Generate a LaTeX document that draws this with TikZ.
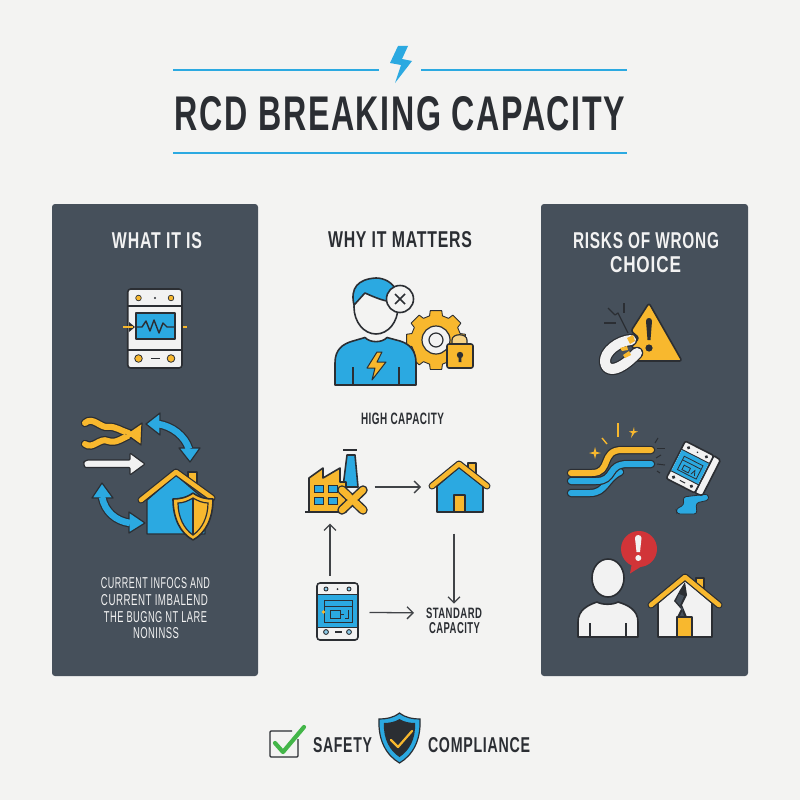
\documentclass[tikz,border=0pt]{standalone}
\usepackage{graphicx}
\usepackage{fontspec}
\setmainfont[LetterSpace=5]{Liberation Sans}
\setsansfont{Liberation Sans}
\usetikzlibrary{arrows.meta}
\definecolor{paper}{HTML}{F3F3F2}
\definecolor{panel}{HTML}{46505B}
\definecolor{ink}{HTML}{2B2E33}
\definecolor{skyb}{HTML}{2BA9E1}
\definecolor{sun}{HTML}{F8B82E}
\definecolor{snow}{HTML}{F2F2F2}
\definecolor{alert}{HTML}{D13438}
\definecolor{okgreen}{HTML}{43B649}
\newcommand{\fit}[3]{\resizebox{#1pt}{#2pt}{\bfseries #3}}
\newcommand{\fitn}[3]{\resizebox{#1pt}{#2pt}{#3}}
\tikzset{
  txt/.style={inner sep=0pt,outer sep=0pt,anchor=center},
  dk/.style={txt,text=ink},
  wt/.style={txt,text=snow},
  ol/.style={draw=ink,line width=1.6pt,line join=round},
  olw/.style={draw=ink,line width=1.2pt,line join=round},
  rule/.style={draw=skyb,line width=2pt},
  flow/.style={draw=ink!90,line width=1.3pt,-{Straight Barb[length=6pt,width=12pt,line width=1.3pt]}},
  anchorbox/.style={inner sep=0pt,outer sep=0pt,minimum width=#1pt,minimum height=#1pt},
}
\newcommand{\dualline}[4]{% outer width, inner width, colour, path
  \draw[ink,line width=#1pt,line cap=round,line join=round] #4;
  \draw[#3,line width=#2pt,line cap=round,line join=round] #4;}
\begin{document}
\begin{tikzpicture}[x=1pt,y=-1pt]
\useasboundingbox (0,0) rectangle (800,800);
\fill[paper] (0,0) rectangle (800,800);

% ---- header
\coordinate (hl1) at (173,70); \coordinate (hl2) at (379,70);
\coordinate (hr1) at (421,70); \coordinate (hr2) at (627,70);
\coordinate (hb1) at (173,153); \coordinate (hb2) at (627,153);
\draw[rule] (hl1) -- (hl2);
\draw[rule] (hr1) -- (hr2);
\draw[rule] (hb1) -- (hb2);
\fill[skyb] (398,46) -- (408,46) -- (402,59) -- (412,61) -- (395,83) -- (401,65) -- (390,63) -- cycle;
\node[dk] (title) at (400,114) {\fit{450}{34}{RCD BREAKING CAPACITY}};

% ---- panels
\fill[panel,rounded corners=3pt] (52,204) rectangle (258,676);
\fill[panel,rounded corners=3pt] (541,204) rectangle (748,676);

\node[wt] (t1) at (157,241) {\fit{90}{16}{WHAT IT IS}};
\node[dk] (t2) at (400,240) {\fit{144}{16}{WHY IT MATTERS}};
\node[wt] (t3a) at (646,241) {\fit{146}{16}{RISKS OF WRONG}};
\node[wt] (t3b) at (645.5,265) {\fit{71}{16}{CHOICE}};

% ---- device icon (left, top)
\draw[sun,line width=1.8pt] (123,327) -- (134,327);
\draw[sun,line width=1.8pt] (177,327) -- (187,327);
\draw[ol,fill=snow,rounded corners=3pt] (127.7,289) rectangle (182,368);
\draw[ink,line width=1.2pt] (127.7,306) -- (182,306);
\draw[ink,line width=1.2pt] (127.7,350) -- (182,350);
\draw[ol,fill=skyb] (136,313) rectangle (174.7,339);
\draw[ink,line width=1.4pt,line join=round] (137,327) -- (142,327) -- (146,321) -- (150,331) -- (154,320) -- (159,333) -- (163,323) -- (167,327) -- (174,327);
\fill[ink] (129,322) -- (135,327) -- (129,332) -- cycle;
\draw[sun,line width=1.5pt] (123,327) -- (133,327);
\draw[ink,line width=.7pt,fill=sun] (138.5,298) circle (2.8);
\draw[ink,line width=.7pt,fill=sun] (171,298) circle (2.8);
\fill[ink] (155,298) circle (1.2);
\draw[ink,line width=.8pt,fill=sun] (138.5,358.5) circle (3.8);
\draw[ink,line width=.8pt,fill=sun] (171,358.5) circle (3.8);
\draw[ink,line width=1.5pt] (151,358.5) -- (160,358.5);

% ---- flow icon (left, middle)
\foreach \w/\c in {8.5/ink,6/sun}{
  \draw[\c,line width=\w pt,line cap=round] (85,423) .. controls (93,416) and (100,428) .. (108,427) .. controls (116,426) and (120,431) .. (132,434);
  \draw[\c,line width=\w pt,line cap=round] (85,444) .. controls (93,450) and (100,437) .. (108,441) .. controls (116,444) and (122,438) .. (132,434);
}
\draw[olw,fill=sun] (142,423) -- (141,445) -- (126,434) -- cycle;
\draw[sun,line width=4pt] (124,431) -- (132,434) -- (124,438);
\draw[olw,fill=snow,rounded corners=1pt] (85,460) -- (130,460) -- (130,453) -- (145,464) -- (130,475) -- (130,467.5) -- (85,467.5) [rounded corners=3pt] -- (83,464) -- cycle;
% blue double arrows
\draw[ink,line width=9pt] (158,424) .. controls (172,426) and (185,436) .. (189,449);
\draw[ink,line width=9pt] (102,497) .. controls (105,512) and (116,521) .. (130,523);
\draw[olw,fill=skyb] (146,424) -- (160,413) -- (160,435) -- cycle;
\draw[olw,fill=skyb] (190,462) -- (179,448) -- (200,448) -- cycle;
\draw[olw,fill=skyb] (102,483) -- (92,498) -- (113,498) -- cycle;
\draw[olw,fill=skyb] (145,523) -- (129,512) -- (129,533) -- cycle;
\draw[skyb,line width=6.6pt] (158,424) .. controls (172,426) and (185,436) .. (189,449);
\draw[skyb,line width=6.6pt] (102,497) .. controls (105,512) and (116,521) .. (130,523);
% house with shield
\draw[olw,fill=sun] (188,472) rectangle (197,484);
\draw[olw,fill=skyb] (147,500) -- (176,475) -- (205,500) -- (205,534) -- (147,534) -- cycle;
\dualline{7}{4.6}{sun}{(141,500) -- (176,472) -- (212,498)}
\draw[ol,fill=sun] (193,493) .. controls (200,498) and (207,499) .. (213,499) .. controls (213,518) and (206,533) .. (193,540) .. controls (180,533) and (173,518) .. (173,499) .. controls (179,499) and (186,498) .. (193,493) -- cycle;
\fill[skyb] (193,498) .. controls (188,501) and (183,503) .. (178,503) .. controls (178,517) and (184,529) .. (193,535) -- cycle;
\fill[sun] (193,498) -- (193,535) .. controls (202,529) and (208,517) .. (208,503) .. controls (203,503) and (198,501) .. (193,498) -- cycle;
\draw[ink,line width=1.2pt] (193,498) .. controls (188,501) and (183,503) .. (178,503) .. controls (178,517) and (184,529) .. (193,535) .. controls (202,529) and (208,517) .. (208,503) .. controls (203,503) and (198,501) .. (193,498) -- cycle;
\draw[ink,line width=1.2pt] (193,498) -- (193,535);

\node[wt] (l1) at (155.5,583.5) {\fitn{109}{11}{CURRENT INFOCS AND}};
\node[wt] (l2) at (154.5,600) {\fitn{107}{11}{CURRENT IMBALEND}};
\node[wt] (l3) at (155.5,617) {\fitn{103}{11}{THE BUGNG NT LARE}};
\node[wt] (l4) at (156,633.5) {\fitn{46}{11}{NONINSS}};

% ---- person with gear (centre)
\begin{scope}[shift={(436,340)}]
\draw[ink,line width=.9pt,fill=sun,line join=round] (-11:30)
  \foreach \a in {0,45,...,315}{ -- (\a+11:30) -- (\a+15:25) -- (\a+30:25) -- (\a+34:30)} -- cycle;
\draw[ink,line width=1.2pt,fill=snow] (0,0) circle (14);
\draw[ink,line width=1.2pt,fill=snow] (0,0) circle (7);
\end{scope}
\draw[ink,line width=1.2pt,fill=sun!55!paper] (452,345) -- (452,340) .. controls (452,333) and (467,333) .. (467,340) -- (467,345) -- cycle;
\draw[ol,fill=sun,rounded corners=2pt] (447,344) rectangle (473,368);
\fill[ink] (460,355) circle (3.2);
\fill[ink] (458.8,355) -- (461.2,355) -- (461.5,362) -- (458.5,362) -- cycle;
\draw[ol,fill=skyb] (335,385) -- (335,363) .. controls (335,350) and (342,344) .. (353,341) -- (365,337.5) .. controls (370,343) and (382,343) .. (387,337.5) -- (400,341) .. controls (410,344) and (416,351) .. (416,363) -- (416,385) -- cycle;
\draw[ink,line width=1.2pt] (353,367) -- (353,385);
\draw[ink,line width=1.2pt] (399,367) -- (399,385);
\draw[ink,line width=1pt,fill=sun,line join=round] (377,352) -- (367,368) -- (375,368) -- (372,380) -- (386,362) -- (377,362) -- (382,352) -- cycle;
\draw[ol,fill=paper] (376,307) ellipse (22 and 27);
\draw[ol,fill=skyb] (354,305) .. controls (350,288) and (358,279) .. (376,278) .. controls (384,278) and (392,282) .. (396,290) -- (395,302) .. controls (386,302) and (376,298) .. (365,293) .. controls (361,297) and (358,301) .. (354,305) -- cycle;
\draw[ol,fill=paper] (400,299) circle (13.5);
\draw[ink,line width=1.5pt] (395,294) -- (405,304);
\draw[ink,line width=1.5pt] (405,294) -- (395,304);
\node[dk] (hc) at (402.5,419) {\fit{83}{11.5}{HIGH CAPACITY}};

% ---- cycle: factory, house, breaker, standard
\node[anchorbox=1] (factory) at (330,487) {};
\node[anchorbox=1] (home) at (459,487) {};
\node[anchorbox=1] (breaker) at (330,612) {};
\node[dk] (std) at (454,613) {\fit{56}{10.5}{STANDARD}};
\node[dk] (cap) at (454.5,628.5) {\fit{51}{11}{CAPACITY}};

% factory
\draw[ol,fill=skyb] (343,487) -- (347,455) -- (355,455) -- (358,487) -- cycle;
\draw[ink,line width=1.4pt] (343,450) -- (357,450);
\draw[ol,fill=sun] (309,512) -- (309,478) -- (323,468) -- (323,478) -- (340,468) -- (340,482) -- (346,482) -- (346,512) -- cycle;
\draw[ink,line width=1.4pt] (305,512) -- (346,512);
\foreach \xa/\ya in {314/485,328/485,314/497,328/497}
  \draw[ink,line width=.9pt,fill=skyb] (\xa,\ya) rectangle +(9.5,7);
\dualline{9.5}{6.5}{sun}{(342,490) -- (363,510)}
\dualline{9.5}{6.5}{sun}{(363,490) -- (342,510)}
\draw[sun,line width=6.5pt,line cap=round] (342,490) -- (363,510);

% house
\draw[olw,fill=sun] (468,463) rectangle (476,476);
\draw[ol,fill=skyb] (437,486) -- (459,467) -- (483,486) -- (483,512) -- (437,512) -- cycle;
\draw[ol,fill=sun] (454,495) rectangle (465,512);
\dualline{7}{4.6}{sun}{(432,486) -- (459,464) -- (487,486)}

% breaker icon
\draw[ol,fill=snow,rounded corners=3pt] (317,583) rectangle (358,640);
\fill[skyb] (318,594) rectangle (357,627);
\draw[ink,line width=1pt] (317,594) -- (358,594);
\draw[ink,line width=1pt] (317,627) -- (358,627);
\draw[ink,line width=.9pt] (324,600) rectangle (352,622);
\draw[ink,line width=.9pt] (324,606) -- (352,606);
\draw[ink,line width=.9pt] (330,610) rectangle (340,618);
\draw[ink,line width=.9pt] (340,614) -- (344,614);
\draw[ink,line width=.9pt] (348,610) -- (348,618) -- (345,618);
\fill[sun] (323.5,612) circle (1.8);
\foreach \p in {326,349}{
  \draw[ink,line width=.9pt,fill=skyb!50!snow] (\p,589) circle (2);
  \draw[ink,line width=.9pt,fill=skyb!50!snow] (\p,632) circle (2.4);
}
\fill[ink] (337.5,589) circle (1);
\draw[ink,line width=1.2pt] (335,632) -- (342,632);

% connectors
\draw[flow,shorten <=44pt,shorten >=37.5pt] (factory) -- (home);
\draw[flow,shorten <=46pt,shorten >=4pt] (home.south -| std.north) -- (std.north);
\draw[flow,shorten <=36pt,shorten >=36pt] (breaker) -- (factory);
\draw[flow,shorten <=39pt,shorten >=12pt] (breaker) -- (std.west);

% ---- risks: warning + broken link
\draw[ol,fill=sun,rounded corners=2.5pt] (649,303) -- (682,361) -- (634,361) -- (638,350) -- (631,347) -- (639,338) -- (631,331) -- cycle;
\fill[ink] (646,321) .. controls (646,317) and (652,317) .. (652,321) -- (650.5,340) -- (647.5,340) -- cycle;
\fill[ink] (649,348) circle (3.6);
\dualline{12.5}{10}{snow}{(631,340) .. controls (618,341) and (604,352) .. (605,362) .. controls (606,372) and (618,373) .. (637,353)}
\fill[sun] (627,338) -- (633,335) -- (635,341) -- (630,344) -- cycle;
\fill[sun] (620,348) -- (627,346) -- (628,350) -- (622,351) -- cycle;
\fill[sun] (623,355) -- (629,351) -- (631,355) -- (625,358) -- cycle;
\draw[ink,line width=1.2pt,line join=round] (608,308) -- (615,315) -- (618,313) -- (623,323) -- (628,333);
\draw[ink,line width=1.2pt] (624,303) -- (624,313);
\draw[ink,line width=1.2pt] (604,323) -- (616,323);

% ---- risks: cables and tilted device
\dualline{8.5}{6}{skyb}{(571,493) -- (590,493) .. controls (606,493) and (606,478) .. (620,472)}
\dualline{8.5}{6}{skyb}{(571,481) -- (596,481) .. controls (616,481) and (606,464) .. (628,464) -- (651,464)}
\dualline{8.5}{6}{sun}{(571,473) -- (592,473) .. controls (612,473) and (600,450) .. (622,450) -- (651,450)}
\draw[sun,line width=1.4pt] (618,423) -- (618,437);
\draw[sun,line width=1.4pt] (602,438) -- (607,444);
\fill[sun] (595,447) -- (596.2,451.8) -- (601,453) -- (596.2,454.2) -- (595,459) -- (593.8,454.2) -- (589,453) -- (593.8,451.8) -- cycle;
\fill[sun] (634,427) -- (634.5,431) -- (638,431.5) -- (634.5,433) -- (631,438) -- (632,433) -- (629,431.5) -- (632.8,431) -- cycle;
\foreach \a/\b/\c/\d in {655/443/658/438,657/448/665/448,656/458/661/455,657/464/665/465,657/471/660/473}
  \draw[ink,line width=1pt] (\a,\b) -- (\c,\d);
% puddle
\draw[ink,line width=.8pt,fill=skyb,rounded corners=3pt] (683,497) -- (708,494) -- (709,500) -- (696,503) -- (697,514) -- (677,514) -- (676,509) -- (684,505) -- cycle;
\begin{scope}[shift={(690,467)},rotate=-27]
\draw[ol,fill=snow,rounded corners=1.5pt] (16,-21) -- (24,-20) -- (24,20) -- (16,21) -- cycle;
\draw[ol,fill=snow,rounded corners=2pt] (-16,-21) rectangle (16,21);
\fill[skyb] (-15,-12) rectangle (15,12);
\draw[ink,line width=.9pt] (-16,-12) -- (16,-12);
\draw[ink,line width=.9pt] (-16,12) -- (16,12);
\draw[ink,line width=.8pt] (-10,-7) rectangle (11,8);
\draw[ink,line width=.8pt] (-10,-3) -- (11,-3);
\draw[ink,line width=.8pt] (-6,1) rectangle (1,6);
\draw[ink,line width=.8pt] (4,6) -- (6,1) -- (8,6);
\foreach \p in {-10,10}{
  \fill[ink] (\p,-16.5) circle (1.8);
  \fill[ink] (\p,16.5) circle (1.9);
}
\fill[ink] (0,-16.5) circle (.9);
\draw[ink,line width=1pt] (-3,16.5) -- (3,16.5);
\end{scope}

% ---- risks: person with alert, cracked house
\draw[ol,fill=snow] (578,637) -- (578,622) .. controls (578,610) and (588,605) .. (597,602) .. controls (602,605) and (613,605) .. (618,602) .. controls (628,605) and (638,610) .. (638,622) -- (638,637) -- cycle;
\draw[ink,line width=1.2pt] (590,623) -- (590,637);
\draw[ink,line width=1.2pt] (626,623) -- (626,637);
\draw[ol,fill=snow] (608,578) ellipse (16 and 19);
\fill[alert] (639,549) circle (18);
\fill[alert] (630,573.5) -- (632,563) -- (642,566) -- cycle;
\fill[snow] (635,538) .. controls (635,534) and (641.5,534) .. (641.5,538) -- (640,552) -- (636.5,552) -- cycle;
\fill[snow] (638.3,558) circle (3);
\draw[olw,fill=sun] (696,578) rectangle (704,591);
\draw[ol,fill=snow] (658,603) -- (685,580) -- (712,603) -- (712,637) -- (658,637) -- cycle;
\fill[ink] (680,590) -- (674,601) -- (681,609) -- (677,617) -- (687,617) -- (682,605) -- (687,595) -- (685,582) -- cycle;
\fill[panel] (679,594) -- (676,601) -- (683,609) -- (680,616) -- (684,616) -- (680,605) -- (684,596) -- cycle;
\draw[ol,fill=sun] (677,617) rectangle (692,637);
\dualline{7}{4.6}{sun}{(651,605) -- (685,577) -- (719,605)}

% ---- footer
\draw[ink,line width=1.3pt,rounded corners=1pt] (298,739) -- (298,757) -- (270,757) -- (270,731) -- (292,731);
\draw[okgreen,line width=4.2pt,line cap=round,line join=round] (275,743) -- (283,752) -- (304,727);
\node[dk] (saf) at (342.5,745.5) {\fit{59}{15}{SAFETY}};
\draw[ink,line width=1.2pt,fill=skyb] (399.5,713) .. controls (406,718) and (413,719) .. (420,719) .. controls (421,740) and (413,755) .. (399.5,763) .. controls (386,755) and (378,740) .. (379,719) .. controls (386,719) and (393,718) .. (399.5,713) -- cycle;
\fill[ink] (399.5,719) .. controls (404,722) and (410,723) .. (415,723) .. controls (416,739) and (409,751) .. (399.5,757) .. controls (390,751) and (383,739) .. (384,723) .. controls (389,723) and (395,722) .. (399.5,719) -- cycle;
\draw[sun,line width=2.2pt,line cap=round,line join=round] (391,740) -- (398,747) -- (412,731);
\node[dk] (com) at (479,745.5) {\fit{102}{15}{COMPLIANCE}};
\end{tikzpicture}
\end{document}
